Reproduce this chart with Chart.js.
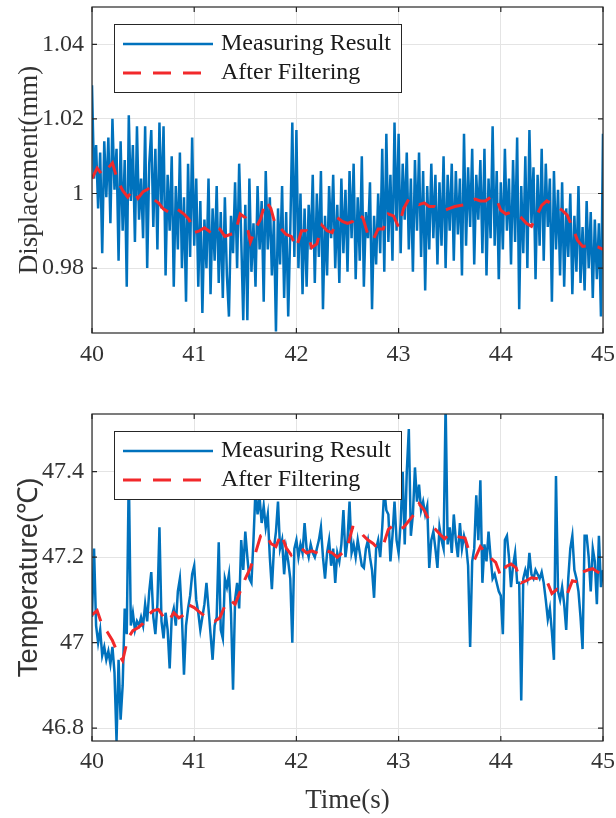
<!DOCTYPE html>
<html><head><meta charset="utf-8">
<script src="https://cdn.jsdelivr.net/npm/chart.js@4.4.1/dist/chart.umd.min.js"></script>
<style>
html,body{margin:0;padding:0;background:#fff;width:616px;height:818px;overflow:hidden;}
#top{position:absolute;left:0;top:0;width:616px;height:400px;}
#bot{position:absolute;left:0;top:400px;width:616px;height:418px;}
</style></head><body>
<div id="top"><canvas id="c1" width="616" height="400"></canvas></div>
<div id="bot"><canvas id="c2" width="616" height="418"></canvas></div>
<script>
const startTime = 40;
const rawStep = 0.02;     // sample interval of measured data (s)
const filtStep = 0.05;    // sample interval of filtered data (s)
const xTicks = [40, 41, 42, 43, 44, 45];
const dispTicks = [0.98, 1, 1.02, 1.04];
const tempTicks = [46.8, 47, 47.2, 47.4];
const seriesNames = ['Measuring Result', 'After Filtering'];

const dispMeasured = [
1.029,1.004,1.013,0.996,1.011,0.984,1.014,0.999,1.015,0.992,
1.020,1.001,1.012,0.982,1.014,0.990,1.009,0.975,1.021,0.998,
1.013,0.987,1.018,0.993,1.004,0.988,1.018,0.980,1.008,1.017,
0.991,1.012,0.985,1.019,0.996,1.018,0.978,1.005,0.990,1.010,
0.975,1.002,0.985,1.011,0.980,0.999,0.971,1.008,0.983,1.015,
0.986,1.004,0.975,0.998,0.968,0.993,0.980,1.004,0.973,0.996,
0.982,1.002,0.976,0.995,0.972,0.999,0.978,0.967,0.994,0.984,
1.003,0.980,1.008,0.988,0.966,0.997,0.966,1.004,0.979,0.992,
0.975,1.002,0.985,0.998,0.971,1.006,0.985,0.999,0.978,0.993,
0.963,0.996,0.981,1.002,0.972,0.995,0.967,0.990,1.019,0.983,
1.017,0.980,1.000,0.973,0.996,0.975,0.997,0.985,1.005,0.976,
1.000,0.983,1.006,0.969,0.994,0.978,1.002,0.988,1.005,0.980,
0.997,0.976,1.004,0.984,1.001,0.979,1.006,0.988,1.008,0.977,
0.999,0.982,1.010,0.975,0.995,0.988,1.003,0.969,0.994,0.981,
1.000,0.984,1.012,0.979,1.016,0.987,1.005,0.982,1.019,0.990,
1.016,0.984,1.008,0.993,1.011,0.985,1.004,0.979,1.009,0.990,
1.011,0.983,1.006,0.974,1.002,0.985,1.008,0.988,1.005,0.981,
1.003,0.986,1.010,0.980,1.005,0.990,1.008,0.982,1.006,0.989,
1.004,0.978,1.016,0.986,1.007,0.991,1.012,0.981,1.005,0.993,
1.009,0.984,1.012,0.978,1.004,0.988,1.018,0.986,1.006,0.977,
1.003,0.985,1.012,0.990,1.004,0.981,1.009,0.987,1.015,0.969,
1.002,0.984,1.010,0.980,1.017,0.992,1.007,0.977,1.005,0.986,
1.012,0.982,1.008,0.991,1.004,0.971,1.006,0.985,1.001,0.978,
1.003,0.975,0.996,0.983,1.000,0.973,0.994,0.979,1.002,0.976,
0.991,0.974,0.998,0.980,0.995,0.972,0.993,0.977,0.992,0.967,
1.016];

const dispFiltered = [
1.004,1.0068,1.005,1.0065,1.0082,1.0035,1.0008,0.999,1.001,0.9987,1.0005,1.0012,0.9985,0.9975,0.9958,0.995,0.9962,0.9955,0.9945,0.993,
0.9895,0.990,0.9908,0.9898,0.9915,0.9905,0.9885,0.989,0.9893,0.9945,0.9935,0.987,0.9905,0.9932,0.998,0.996,0.991,0.9905,0.989,0.9885,
0.9855,0.990,0.990,0.9855,0.9865,0.9915,0.990,0.9895,0.9935,0.9925,0.992,0.9925,0.9945,0.9935,0.989,0.9875,0.9905,0.9905,0.9945,0.994,
0.991,0.996,0.9985,0.998,0.997,0.9975,0.9965,0.9965,0.9955,0.9955,0.996,0.9965,0.9968,0.997,0.998,0.9985,0.998,0.998,0.999,0.999,
0.9955,0.9945,0.995,0.9945,0.9935,0.992,0.9912,0.994,0.9968,0.998,0.9972,0.9965,0.9955,0.9942,0.991,0.9875,0.9858,0.986,0.986,0.9857,
0.985];

const tempMeasured = [
47.06,47.22,47.04,47.00,47.03,46.97,46.99,46.96,46.98,46.95,
46.99,46.93,46.77,46.96,46.82,46.90,47.08,47.02,47.40,47.04,
47.07,47.03,47.05,47.04,47.06,47.04,47.09,47.05,47.12,47.165,
47.06,47.02,47.09,47.27,47.05,47.01,47.07,47.03,46.94,47.06,
47.08,47.04,47.12,47.15,47.06,46.925,47.04,47.08,47.11,47.16,
47.18,47.10,47.07,47.03,47.06,47.09,47.14,47.08,47.02,46.96,
47.04,47.06,47.235,47.03,47.01,47.15,47.13,47.16,47.07,46.89,
47.10,47.14,47.08,47.24,47.17,47.26,47.20,47.15,47.14,47.24,
47.36,47.30,47.34,47.28,47.32,47.27,47.30,47.20,47.125,47.22,
47.26,47.33,47.22,47.24,47.16,47.22,47.19,47.15,47.00,47.22,
47.24,47.20,47.23,47.21,47.28,47.22,47.20,47.23,47.21,47.20,
47.22,47.24,47.27,47.20,47.15,47.21,47.24,47.18,47.22,47.14,
47.21,47.19,47.23,47.31,47.20,47.24,47.33,47.21,47.23,47.20,
47.24,47.21,47.18,47.175,47.22,47.24,47.20,47.17,47.105,47.22,
47.24,47.20,47.27,47.36,47.31,47.30,47.19,47.25,47.33,47.24,
47.21,47.28,47.40,47.23,47.40,47.50,47.25,47.30,47.41,47.33,
47.37,47.31,47.33,47.30,47.32,47.175,47.24,47.26,47.22,47.175,
47.27,47.24,47.22,47.56,47.23,47.27,47.21,47.30,47.24,47.20,
47.28,47.22,47.25,47.23,47.18,46.99,47.19,47.22,47.345,47.24,
47.38,47.14,47.23,47.19,47.26,47.20,47.15,47.16,47.14,47.12,
47.11,47.02,47.24,47.25,47.20,47.13,47.18,47.21,47.14,47.14,
46.865,47.15,47.17,47.15,47.21,47.16,47.15,47.17,47.16,47.15,
47.165,47.14,47.10,47.055,47.08,47.025,46.96,47.39,47.12,47.10,
47.13,47.09,47.03,47.15,47.22,47.25,47.17,47.15,47.12,47.06,
46.985,47.25,47.25,47.20,47.12,47.22,47.19,47.09,47.25,47.13,
47.17];

const tempFiltered = [
47.065,47.075,47.04,47.025,47.005,46.977,46.958,47.01,47.028,47.035,47.045,47.065,47.075,47.078,47.06,47.05,47.07,47.058,47.065,47.088,
47.082,47.072,47.063,47.057,47.05,47.058,47.086,47.10,47.09,47.12,47.15,47.175,47.21,47.25,47.255,47.232,47.225,47.255,47.222,47.205,
47.215,47.22,47.21,47.215,47.21,47.205,47.215,47.21,47.2,47.21,47.225,47.27,47.268,47.252,47.24,47.232,47.22,47.228,47.265,47.275,
47.265,47.27,47.285,47.30,47.325,47.31,47.285,47.268,47.255,47.243,47.255,47.25,47.247,47.245,47.205,47.198,47.225,47.21,47.198,47.188,
47.155,47.178,47.184,47.175,47.14,47.145,47.152,47.15,47.148,47.145,47.115,47.125,47.12,47.114,47.145,47.142,47.165,47.17,47.173,47.165,
47.161];

const AX = '#262626', TXT = '#333333', GRID = '#e4e4e4';
const BLUE = '#0072BD', RED = '#F2292B';

const framePlugin = {
  id: 'frame',
  afterDraw(chart) {
    const {ctx, chartArea: a, scales} = chart;
    ctx.save();
    ctx.strokeStyle = AX; ctx.lineWidth = 1.2;
    ctx.strokeRect(a.left, a.top, a.width, a.height);
    const tl = 5;
    ctx.beginPath();
    scales.x.ticks.forEach(t => {
      const p = scales.x.getPixelForValue(t.value);
      ctx.moveTo(p, a.bottom); ctx.lineTo(p, a.bottom - tl);
      ctx.moveTo(p, a.top); ctx.lineTo(p, a.top + tl);
    });
    scales.y.ticks.forEach(t => {
      const p = scales.y.getPixelForValue(t.value);
      ctx.moveTo(a.left, p); ctx.lineTo(a.left + tl, p);
      ctx.moveTo(a.right, p); ctx.lineTo(a.right - tl, p);
    });
    ctx.stroke();
    // legend box
    const lx = a.left + 22.5, ly = a.top + 17.5, lw = 287, lh = 68;
    ctx.fillStyle = '#fff'; ctx.fillRect(lx, ly, lw, lh);
    ctx.strokeStyle = AX; ctx.lineWidth = 1; ctx.strokeRect(lx, ly, lw, lh);
    chart.data.datasets.forEach((ds, i) => {
      const cy = ly + 19.5 + i * 29;
      ctx.beginPath();
      ctx.strokeStyle = ds.borderColor; ctx.lineWidth = ds.borderWidth;
      ctx.setLineDash(ds.borderDash || []);
      ctx.moveTo(lx + 8.5, cy); ctx.lineTo(lx + 98.5, cy); ctx.stroke();
      ctx.setLineDash([]);
      ctx.fillStyle = '#1a1a1a';
      ctx.font = '24px "Liberation Serif"';
      ctx.textBaseline = 'alphabetic'; ctx.textAlign = 'left';
      ctx.fillText(ds.label, lx + 106.5, cy + 5.5);
    });
    ctx.restore();
  }
};

function noPad(s) { s.paddingTop = 0; s.paddingBottom = 0; s.paddingLeft = 0; s.paddingRight = 0; }

function makeChart(el, cfg) {
  return new Chart(el, {
    type: 'line',
    data: { datasets: [
      { label: seriesNames[0], data: cfg.measured.map((v, i) => ({x: startTime + i * rawStep, y: v})),
        borderColor: BLUE, borderWidth: 2.5, pointRadius: 0, tension: 0, order: 1 },
      { label: seriesNames[1], data: cfg.filtered.map((v, i) => ({x: startTime + i * filtStep, y: v})),
        borderColor: RED, borderWidth: 3, borderDash: [18, 12], pointRadius: 0, tension: 0, order: 0 }
    ]},
    options: {
      responsive: false, animation: false, devicePixelRatio: 1,
      layout: { padding: { left: 0, right: 13, top: cfg.padTop, bottom: 0 } },
      plugins: { legend: { display: false }, tooltip: { enabled: false } },
      scales: {
        x: {
          type: 'linear', min: 40, max: 45,
          afterBuildTicks: s => { s.ticks = xTicks.map(v => ({value: v})); },
          afterFit: s => { s.height = cfg.xHeight; noPad(s); },
          grid: { color: GRID, drawTicks: false, lineWidth: 1 },
          border: { display: false },
          ticks: { font: { family: 'Liberation Serif', size: 24 }, color: TXT, padding: cfg.xPad, maxRotation: 0, autoSkip: false, callback: v => String(v) },
          title: cfg.xTitle
        },
        y: {
          type: 'linear', min: cfg.yMin, max: cfg.yMax,
          afterBuildTicks: s => { s.ticks = cfg.yTicks.map(v => ({value: v})); },
          afterFit: s => { s.width = 92; noPad(s); },
          grid: { color: GRID, drawTicks: false, lineWidth: 1 },
          border: { display: false },
          ticks: { font: { family: 'Liberation Serif', size: 24 }, color: TXT, padding: 8, autoSkip: false, callback: v => String(v) },
          title: { display: true, text: cfg.yTitle, color: TXT, font: cfg.yFont, padding: { top: cfg.yTitlePad, bottom: 0 } }
        }
      }
    },
    plugins: [framePlugin]
  });
}

makeChart(document.getElementById('c1'), {
  measured: dispMeasured, filtered: dispFiltered,
  yMin: 0.9626, yMax: 1.05, yTicks: dispTicks,
  yTitle: 'Displacement(mm)', yFont: { family: 'Liberation Serif', size: 27 }, yTitlePad: 14,
  padTop: 7, xHeight: 67, xPad: 7.5, xTitle: { display: false }
});
makeChart(document.getElementById('c2'), {
  measured: tempMeasured, filtered: tempFiltered,
  yMin: 46.77, yMax: 47.535, yTicks: tempTicks,
  yTitle: 'Temperature(℃)', yFont: { family: 'Liberation Sans', size: 27.5 }, yTitlePad: 13,
  padTop: 14, xHeight: 77, xPad: 6.5,
  xTitle: { display: true, text: 'Time(s)', color: TXT, font: { family: 'Liberation Serif', size: 27 }, padding: { top: 0, bottom: 1 } }
});
</script>
</body></html>
